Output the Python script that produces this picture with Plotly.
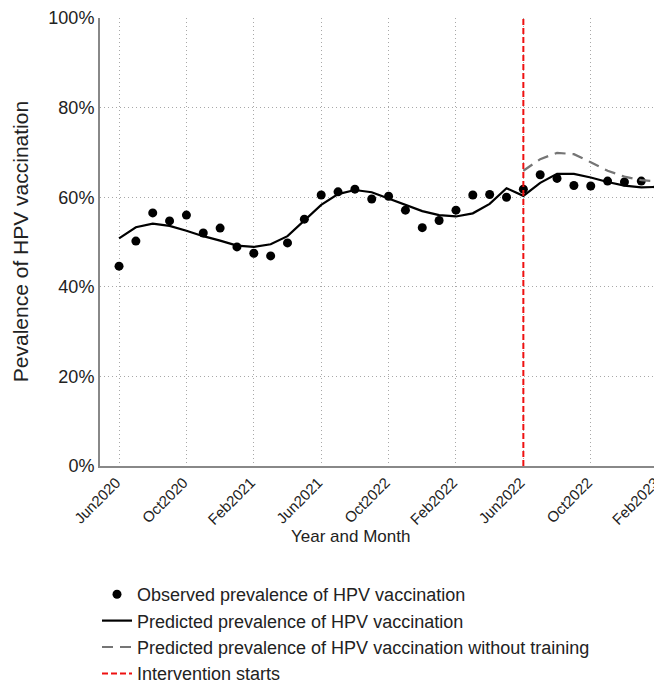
import plotly.graph_objects as go

MONTHS = [
    f"{m}{y}"
    for y, ms in [
        (2020, ["Jun", "Jul", "Aug", "Sep", "Oct", "Nov", "Dec"]),
        (2021, ["Jan", "Feb", "Mar", "Apr", "May", "Jun", "Jul", "Aug", "Sep", "Oct", "Nov", "Dec"]),
        (2022, ["Jan", "Feb", "Mar", "Apr", "May", "Jun", "Jul", "Aug", "Sep", "Oct", "Nov", "Dec"]),
        (2023, ["Jan", "Feb"]),
    ]
    for m in ms
]

OBSERVED = [
    44.6, 50.2, 56.5, 54.7, 56.0, 52.0, 53.1, 48.9, 47.5, 46.9, 49.8, 55.1,
    60.5, 61.2, 61.8, 59.6, 60.2, 57.1, 53.2, 54.8, 57.1, 60.5, 60.6, 60.0,
    61.8, 65.0, 64.2, 62.6, 62.5, 63.6, 63.4, 63.6, 62.3,
]

PREDICTED = [
    50.8, 53.3, 54.1, 53.6, 52.5, 51.3, 50.3, 49.2, 48.9, 49.5, 51.3, 54.7,
    58.3, 60.7, 61.6, 61.1, 59.7, 58.3, 56.9, 56.0, 55.7, 56.4, 58.5, 62.0,
    60.3, 63.2, 65.2, 65.2, 64.4, 63.4, 62.6, 62.2, 62.3,
]

# counterfactual starts at the intervention month (Jun2022)
COUNTERFACTUAL = [65.9, 68.5, 69.9, 69.6, 67.8, 65.9, 64.6, 63.8, 63.5]

INTERVENTION = "Jun2022"

TICK_VALS = ["Jun2020", "Oct2020", "Feb2021", "Jun2021", "Oct2021",
             "Feb2022", "Jun2022", "Oct2022", "Feb2023"]
TICK_TEXT = ["Jun2020", "Oct2020", "Feb2021", "Jun2021", "Oct2022",
             "Feb2022", "Jun2022", "Oct2022", "Feb2023"]

Y_TICKS = [0, 20, 40, 60, 80, 100]

FONT = "Liberation Sans, Arial, sans-serif"
TEXT = "#222222"
GRID = dict(showgrid=True, gridcolor="#a8a8a8", griddash="1px,3px", gridwidth=1)

fig = go.Figure()

fig.add_trace(go.Scatter(
    x=MONTHS, y=OBSERVED, mode="markers",
    marker=dict(color="black", size=9),
    name="Observed prevalence of HPV vaccination",
    legendgroup="a",
))
fig.add_trace(go.Scatter(
    x=MONTHS, y=PREDICTED, mode="lines",
    line=dict(color="black", width=2.2),
    name="Predicted prevalence of HPV vaccination",
    legendgroup="b",
))
fig.add_trace(go.Scatter(
    x=MONTHS[MONTHS.index(INTERVENTION):], y=COUNTERFACTUAL, mode="lines",
    line=dict(color="#757575", width=2.2, dash="11px,7px"),
    name="Predicted prevalence of HPV vaccination without training",
    legendgroup="c",
))
fig.add_trace(go.Scatter(
    x=[INTERVENTION, INTERVENTION], y=[0, 100], mode="lines",
    line=dict(color="#ee1111", width=2, dash="6px,3px"),
    name="Intervention starts",
    legendgroup="d",
))

# the page adds an 8px body margin, so the figure is 8px smaller each way
H = 680
fig.update_layout(
    width=654,
    height=H,
    paper_bgcolor="white",
    plot_bgcolor="white",
    font=dict(family=FONT, color=TEXT, size=18),
    margin=dict(l=92, r=0, t=10, b=H - 458, autoexpand=False),
    showlegend=True,
    legend=dict(
        xref="container", yref="container",
        x=89 / 654, y=1 - 568 / H,
        xanchor="left", yanchor="top",
        font=dict(size=18, color=TEXT),
        tracegroupgap=0,
        bgcolor="rgba(0,0,0,0)",
    ),
    xaxis=dict(
        type="category",
        categoryorder="array",
        categoryarray=MONTHS,
        range=[-1.13, 32.23],
        tickmode="array",
        tickvals=TICK_VALS,
        ticktext=TICK_TEXT,
        tickangle=-45,
        tickfont=dict(size=15),
        ticklabelshift=-3,
        ticks="",
        showline=True,
        linecolor="#888888",
        linewidth=2,
        zeroline=False,
        **GRID,
    ),
    yaxis=dict(
        range=[0, 100],
        tickmode="array",
        tickvals=Y_TICKS,
        ticktext=[f"{v}%" for v in Y_TICKS],
        tickfont=dict(size=18),
        ticks="",
        showline=True,
        linecolor="#888888",
        linewidth=2,
        zeroline=False,
        **GRID,
    ),
)

fig.add_annotation(
    text="Pevalence of HPV vaccination",
    xref="paper", yref="paper",
    x=-0.142, y=0.5,
    textangle=-90,
    xanchor="center", yanchor="middle",
    showarrow=False,
    font=dict(size=21, color=TEXT),
)

fig.add_annotation(
    text="Year and Month",
    xref="paper", yref="paper",
    x=0.445, y=-0.158,
    xanchor="center", yanchor="middle",
    showarrow=False,
    font=dict(size=17, color=TEXT),
)

fig.write_html("out.html")
